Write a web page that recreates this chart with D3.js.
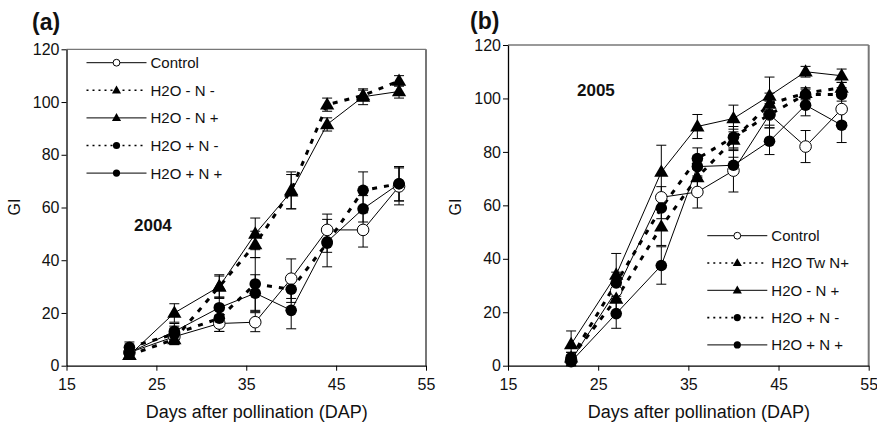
<!DOCTYPE html>
<html>
<head>
<meta charset="utf-8">
<script src="https://cdn.jsdelivr.net/npm/d3@7"></script>
<style>
  body { margin: 0; background: #fff; }
  svg { display: block; }
  text { font-family: "Liberation Sans", Arial, sans-serif; fill: #111; }
</style>
</head>
<body>
<svg id="chart" width="877" height="426"></svg>
<script>
// days after pollination, shared by both years
const days = [22, 27, 32, 36, 40, 44, 48, 52]
const xTicks = [15, 25, 35, 45, 55]
const yTicks = [0, 20, 40, 60, 80, 100, 120]

// 2004 (panel a) - mean GI and error
const a_control = [5, 11, 16, 16.5, 33, 51.5, 51.5, 68]
const a_control_err = [2, 3, 3, 3.6, 7.5, 6, 6.5, 7]
const a_mNm = [4, 10, 30, 46, 66.5, 99, 102.5, 108]
const a_mNm_err = [1.5, 2, 4, 5, 7, 2.5, 2, 2]
const a_mNp = [4, 20, 30, 50, 66, 91.5, 102, 104]
const a_mNp_err = [1.5, 3.5, 4.5, 6, 6.5, 2.5, 3, 2.5]
const a_pNm = [7, 12, 18, 31, 29, 46.5, 66.5, 69]
const a_pNm_err = [2, 3, 5, 10, 5, 9, 7, 6.5]
const a_pNp = [5, 13, 22, 27.5, 21, 47, 59.5, 69]
const a_pNp_err = [2, 3, 4, 7, 7, 4, 5, 6.5]

// 2005 (panel b)
const b_control = [2, 28, 63, 65, 73, 94, 82, 96]
const b_control_err = [2, 3, 4, 6, 8, 5, 6, 5]
const b_tw = [3, 25, 52, 70.5, 84.5, 98, 102, 104]
const b_tw_err = [2, 5, 7, 5, 4, 4, 2, 2]
const b_mNp = [8, 34, 72.5, 89.5, 92.5, 101, 110, 108.5]
const b_mNp_err = [5, 8, 10, 4.5, 5, 7, 2, 2.5]
const b_pNm = [3, 31, 59, 77.5, 85.5, 94, 101.5, 101.5]
const b_pNm_err = [2, 4, 4, 4, 4, 4, 2, 2.5]
const b_pNp = [1.5, 19.5, 37.5, 74.5, 75, 84, 97.5, 90]
const b_pNp_err = [1.5, 5.5, 7, 4, 3, 5, 4, 6.5]

const labelsA = ['Control', 'H2O - N -', 'H2O - N +', 'H2O + N -', 'H2O + N +']
const labelsB = ['Control', 'H2O Tw N+', 'H2O - N +', 'H2O + N -', 'H2O + N +']

// marker / line style per series slot
const styles = [
    { marker: 'open', dashed: false },
    { marker: 'tri', dashed: true },
    { marker: 'tri', dashed: false },
    { marker: 'dot', dashed: true },
    { marker: 'dot', dashed: false }
]

const svg = d3.select('#chart')

function drawMarker(g, type, x, y, small) {
    if (type === 'tri') {
        const s = small ? 4.8 : 7.5
        g.append('path')
            .attr('d', `M${x},${y - s}L${x + s * 0.95},${y + s * 0.65}L${x - s * 0.95},${y + s * 0.65}Z`)
            .attr('fill', '#000')
    } else if (type === 'dot') {
        g.append('circle').attr('cx', x).attr('cy', y).attr('r', small ? 3.6 : 5.8).attr('fill', '#000')
    } else {
        g.append('circle').attr('cx', x).attr('cy', y).attr('r', small ? 3.4 : 5.8)
            .attr('fill', '#fff').attr('stroke', '#000').attr('stroke-width', 1)
    }
}

function renderPanel(opt) {
    const x = d3.scaleLinear().domain([15, 55]).range(opt.xr)
    const y = d3.scaleLinear().domain([0, 120]).range(opt.yr)
    const g = svg.append('g')

    // frame
    g.append('line').attr('x1', opt.xr[0]).attr('x2', opt.xr[1]).attr('y1', opt.yr[1]).attr('y2', opt.yr[1])
        .attr('stroke', '#777').attr('stroke-width', 1.3)
    g.append('line').attr('x1', opt.xr[1]).attr('x2', opt.xr[1]).attr('y1', opt.yr[1]).attr('y2', opt.yr[0])
        .attr('stroke', '#777').attr('stroke-width', 2)

    const xAxis = g.append('g').attr('transform', `translate(0,${opt.yr[0]})`)
        .call(d3.axisBottom(x).tickValues(xTicks).tickSize(5).tickSizeOuter(0))
    const yAxis = g.append('g').attr('transform', `translate(${opt.xr[0]},0)`)
        .call(d3.axisLeft(y).tickValues(yTicks).tickSize(5).tickSizeOuter(0))
    ;[xAxis, yAxis].forEach(ax => {
        ax.select('.domain').attr('stroke', '#000').attr('stroke-width', 1.3)
        ax.selectAll('.tick line').attr('stroke', '#000')
        ax.selectAll('.tick text').attr('font-size', 16).attr('fill', '#111')
            .style('font-family', '"Liberation Sans", Arial, sans-serif')
    })
    xAxis.selectAll('.tick text').attr('dy', '1.05em')
    yAxis.selectAll('.tick text').attr('x', -7)

    // series lines
    opt.series.forEach((s, i) => {
        const st = styles[i]
        const pts = days.map((d, j) => [x(d), y(s.v[j])])
        g.append('path')
            .attr('d', d3.line()(pts))
            .attr('fill', 'none')
            .attr('stroke', '#000')
            .attr('stroke-width', st.dashed ? 3 : 1)
            .attr('stroke-dasharray', st.dashed ? '5,7' : null)
    })
    // error bars
    opt.series.forEach(s => {
        days.forEach((d, j) => {
            const cx = x(d), lo = y(s.v[j] - s.e[j]), hi = y(s.v[j] + s.e[j])
            g.append('line').attr('x1', cx).attr('x2', cx).attr('y1', lo).attr('y2', hi)
                .attr('stroke', '#000').attr('stroke-width', 1)
            ;[lo, hi].forEach(yy => g.append('line')
                .attr('x1', cx - 5).attr('x2', cx + 5).attr('y1', yy).attr('y2', yy)
                .attr('stroke', '#000').attr('stroke-width', 1))
        })
    })
    // markers
    opt.series.forEach((s, i) => {
        days.forEach((d, j) => drawMarker(g, styles[i].marker, x(d), y(s.v[j]), false))
    })

    // legend
    opt.labels.forEach((lab, i) => {
        const st = styles[i]
        const ly = opt.leg.y + i * opt.leg.dy
        g.append('line').attr('x1', opt.leg.x).attr('x2', opt.leg.x + 60).attr('y1', ly).attr('y2', ly)
            .attr('stroke', '#000')
            .attr('stroke-width', st.dashed ? 1.6 : 1)
            .attr('stroke-dasharray', st.dashed ? '2,4' : null)
        drawMarker(g, st.marker, opt.leg.x + 30, ly, true)
        g.append('text').attr('x', opt.leg.x + 64).attr('y', ly).attr('dy', '0.36em')
            .attr('font-size', 15).text(lab)
    })

    // year tag
    g.append('text').attr('x', opt.year.x).attr('y', opt.year.y).attr('dy', '0.36em')
        .attr('font-size', 17).attr('font-weight', 'bold').text(opt.year.t)

    // panel letter
    g.append('text').attr('x', opt.letter.x).attr('y', opt.letter.y)
        .attr('font-size', 23).attr('font-weight', 'bold').text(opt.letter.t)

    // axis titles
    g.append('text').attr('x', (opt.xr[0] + opt.xr[1]) / 2 + 10.5).attr('y', 418)
        .attr('text-anchor', 'middle').attr('font-size', 18).text('Days after pollination (DAP)')
    g.append('text').attr('transform', `translate(${opt.xr[0] - 47},207) rotate(-90)`)
        .attr('text-anchor', 'middle').attr('font-size', 16).text('GI')
}

renderPanel({
    xr: [66.5, 426], yr: [365.7, 49.3],
    series: [
        { v: a_control, e: a_control_err },
        { v: a_mNm, e: a_mNm_err },
        { v: a_mNp, e: a_mNp_err },
        { v: a_pNm, e: a_pNm_err },
        { v: a_pNp, e: a_pNp_err }
    ],
    labels: labelsA,
    leg: { x: 86.5, y: 62.7, dy: 27.6 },
    year: { x: 134, y: 225, t: '2004' },
    letter: { x: 32, y: 30, t: '(a)' }
})

renderPanel({
    xr: [508, 868.7], yr: [365.7, 45],
    series: [
        { v: b_control, e: b_control_err },
        { v: b_tw, e: b_tw_err },
        { v: b_mNp, e: b_mNp_err },
        { v: b_pNm, e: b_pNm_err },
        { v: b_pNp, e: b_pNp_err }
    ],
    labels: labelsB,
    leg: { x: 707.3, y: 235.7, dy: 27.3 },
    year: { x: 577, y: 89.5, t: '2005' },
    letter: { x: 470, y: 29, t: '(b)' }
})
</script>
</body>
</html>
